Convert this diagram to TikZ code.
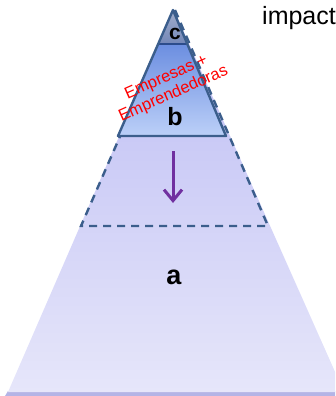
\documentclass[tikz,border=0pt]{standalone}
\usepackage{fontspec}
\setmainfont{Liberation Sans}
\usetikzlibrary{arrows.meta}
\definecolor{lavtop}{HTML}{BCBCF4}
\definecolor{lavbot}{HTML}{E6E6FA}
\definecolor{lavshadow}{HTML}{B4B4E6}
\definecolor{edgeblue}{HTML}{3B5E8C}
\definecolor{bluetop}{HTML}{4E76D8}
\definecolor{bluebot}{HTML}{BCD0F8}
\definecolor{captop}{HTML}{A2AECB}
\definecolor{capbot}{HTML}{7387B8}
\definecolor{capline}{HTML}{2C4C8C}
\definecolor{arrowpurple}{HTML}{7030A0}

\begin{document}
\begin{tikzpicture}[x=1pt,y=-1pt,
    lbl/.style={font=\fontsize{22}{24}\selectfont\bfseries},
    edge/.style={draw=edgeblue,line width=2.4pt,line join=round},
    dashedge/.style={draw=edgeblue,line width=2.4pt,dash pattern=on 8pt off 6pt},
    redtext/.style={text=red,font=\fontsize{16.5}{18}\selectfont,align=center,inner sep=0pt}]
  \clip (0,0) rectangle (335,396);
  \coordinate (apex) at (174,10);
  % base pyramid
  \fill[lavshadow] (8,391) -- (344,391) -- (347,396) -- (5,396) -- cycle;
  \shade[top color=lavtop,bottom color=lavbot] (apex) -- (8,392) -- (344,392) -- cycle;
  % dashed outline
  \coordinate (dashl) at (81,226);
  \coordinate (dashr) at (268,226);
  \draw[dashedge] (175,10) -- (dashr) -- (dashl) -- cycle;
  % blue triangle
  \coordinate (basel) at (118,136);
  \coordinate (baser) at (226,136);
  \coordinate (capl) at (158,44);
  \coordinate (capr) at (188,44);
  \shade[top color=bluetop,bottom color=bluebot] (173,10) -- (basel) -- (baser) -- cycle;
  \shade[top color=captop,bottom color=capbot] (173,10) -- (capl) -- (capr) -- cycle;
  \draw[capline,line width=2pt] (capl) -- (capr);
  \draw[edge] (173,10) -- (basel) -- (baser) -- cycle;
  % labels
  \node[lbl,font=\fontsize{21}{24}\selectfont\bfseries] (c) at (175,34) {c};
  \node[lbl,font=\fontsize{25}{28}\selectfont\bfseries] (b) at (175,117) {b};
  \node[lbl,font=\fontsize{27}{30}\selectfont\bfseries] (a) at (174,277) {a};
  \node[redtext,rotate=24] (firms) at (170,86) {Empresas +\\Emprendedoras};
  \node[anchor=base west,inner sep=0pt,font=\fontsize{25}{28}\selectfont] (impact) at (262,25) {impact};
  % arrow
  \coordinate (arrtop) at (173,151);
  \coordinate (arrbot) at (173,203);
  \draw[arrowpurple,line width=3pt,-{Straight Barb[length=11pt,width=18pt]}] (arrtop) -- (arrbot);
\end{tikzpicture}
\end{document}
